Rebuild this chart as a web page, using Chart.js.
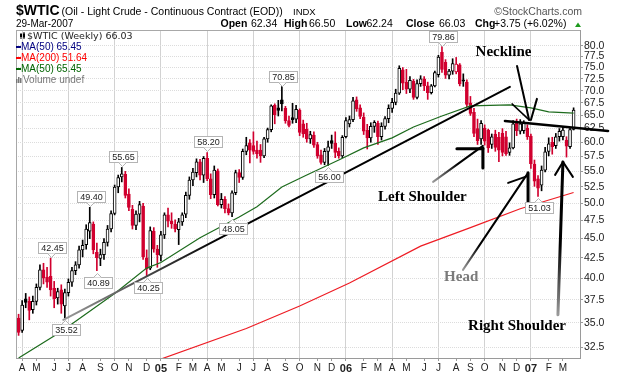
<!DOCTYPE html>
<html>
<head>
<meta charset="utf-8">
<title>$WTIC weekly</title>
<script src="https://cdn.jsdelivr.net/npm/chart.js@4.4.1/dist/chart.umd.min.js"></script>
<style>
  html, body { margin: 0; padding: 0; background: #fff; }
  #wrap { width: 620px; height: 376px; }
</style>
</head>
<body>
<div id="wrap"><canvas id="wtic" width="620" height="376"></canvas></div>
<script>
// $WTIC weekly candles, week 0 = week of 29-Mar-2004 (one entry per week)
const opens = [
  35.5, 34.2, 37.6, 37.3, 36.4, 37.3, 38.9, 41.0, 40.1, 40.2,
  38.8, 37.7, 38.6, 36.8, 38.3, 39.5, 40.9, 41.6, 43.5, 44.2,
  46.0, 47.0, 43.2, 42.4, 42.9, 44.5, 46.3, 48.5, 52.5, 54.1,
  54.5, 51.4, 49.1, 46.8, 48.4, 49.6, 42.5, 41.2, 46.0, 43.6,
  42.8, 45.5, 48.3, 47.4, 47.0, 46.2, 47.3, 48.4, 51.2, 53.6,
  54.8, 56.6, 54.4, 57.2, 53.8, 51.3, 55.1, 49.8, 50.6, 49.2,
  48.6, 51.6, 54.8, 54.0, 58.4, 59.9, 59.4, 58.6, 58.6, 57.6,
  60.6, 62.3, 67.0, 66.5, 68.1, 66.4, 64.0, 64.6, 64.3, 66.0,
  63.4, 62.4, 60.6, 61.3, 59.6, 57.8, 56.5, 58.4, 60.3, 59.8,
  58.4, 57.6, 61.0, 63.4, 64.2, 68.1, 66.5, 64.7, 62.2, 60.8,
  62.9, 63.5, 61.0, 62.9, 64.4, 66.4, 67.6, 69.5, 74.5, 71.8,
  70.3, 72.0, 68.6, 71.5, 72.5, 71.0, 69.6, 71.0, 73.4, 78.5,
  76.2, 73.3, 74.2, 74.0, 75.6, 72.3, 71.8, 67.5, 65.6, 62.5,
  60.6, 62.6, 62.2, 59.6, 61.5, 60.9, 61.6, 61.0, 58.2, 59.0,
  63.6, 62.0, 62.1, 62.6, 61.1, 56.2, 53.8, 52.8, 55.2, 58.4,
  60.0, 59.4, 61.0, 61.0, 60.4, 59.2, 62.34
];
const highs = [
  35.9, 37.4, 38.2, 37.8, 37.9, 39.3, 41.6, 41.8, 41.3, 42.45,
  39.6, 38.8, 39.2, 38.7, 39.9, 41.3, 42.0, 44.0, 44.8, 46.9,
  49.40, 47.3, 44.4, 43.6, 45.0, 46.8, 48.9, 52.8, 54.4, 55.65,
  55.0, 52.2, 49.7, 48.9, 50.3, 50.0, 43.5, 46.6, 46.5, 44.1,
  46.0, 48.6, 49.3, 48.6, 47.6, 47.8, 48.6, 51.7, 54.1, 55.5,
  57.1, 57.0, 57.5, 58.20, 54.6, 55.9, 55.4, 51.5, 51.0, 49.9,
  51.9, 55.2, 55.3, 58.8, 60.9, 60.5, 61.9, 60.2, 59.6, 60.9,
  62.6, 67.1, 67.3, 68.0, 70.85, 66.8, 64.9, 67.4, 67.0, 66.3,
  64.1, 63.5, 62.0, 61.9, 60.0, 58.6, 58.9, 60.2, 61.3, 61.9,
  59.0, 61.2, 64.6, 64.9, 68.6, 68.7, 67.1, 65.5, 63.3, 63.6,
  64.0, 63.9, 63.6, 64.8, 67.1, 68.4, 70.3, 75.4, 75.0, 74.6,
  73.0, 72.4, 72.3, 73.2, 73.0, 71.8, 71.3, 74.2, 77.8, 79.86,
  76.8, 74.6, 77.0, 77.3, 75.9, 73.6, 72.3, 68.8, 66.4, 64.3,
  64.0, 63.2, 62.4, 61.5, 62.2, 61.8, 62.5, 62.0, 59.9, 64.0,
  64.3, 64.2, 64.0, 63.2, 61.5, 56.9, 54.3, 55.9, 59.1, 60.8,
  60.9, 61.6, 62.5, 62.8, 61.0, 62.6, 66.50
];
const lows = [
  33.7, 34.0, 36.6, 35.3, 36.0, 36.9, 38.6, 39.3, 38.9, 37.9,
  36.6, 37.0, 36.0, 35.52, 37.9, 39.0, 40.4, 41.2, 42.6, 43.6,
  45.0, 43.0, 40.89, 41.5, 42.3, 44.0, 45.9, 48.3, 51.6, 53.3,
  50.8, 48.9, 46.3, 46.2, 47.3, 42.3, 40.25, 41.0, 43.2, 41.3,
  42.1, 45.0, 46.6, 46.4, 45.9, 44.2, 46.8, 47.9, 50.6, 52.7,
  54.1, 53.6, 53.2, 53.5, 50.7, 50.8, 49.6, 49.3, 48.6, 48.3,
  48.05, 51.3, 53.2, 53.7, 57.8, 56.4, 57.9, 57.2, 56.5, 57.3,
  60.0, 61.9, 63.4, 64.9, 65.9, 63.5, 62.8, 63.5, 63.6, 61.2,
  60.9, 60.0, 59.8, 59.1, 57.2, 56.2, 56.1, 56.00, 58.9, 57.3,
  57.2, 57.3, 60.8, 62.8, 63.8, 65.8, 64.4, 61.4, 58.8, 60.0,
  61.8, 59.6, 60.4, 62.4, 63.6, 65.6, 67.1, 69.2, 70.2, 69.4,
  69.6, 68.2, 68.3, 70.9, 70.0, 68.2, 69.3, 70.8, 72.9, 73.9,
  72.6, 72.5, 73.5, 73.6, 71.0, 70.9, 66.7, 65.0, 61.0, 59.6,
  59.6, 59.5, 58.2, 58.9, 58.4, 56.6, 57.6, 57.7, 57.7, 58.8,
  61.2, 61.5, 61.6, 60.5, 55.5, 52.6, 51.03, 51.9, 54.9, 57.6,
  57.9, 58.9, 60.2, 60.4, 57.4, 58.9, 62.24
];
const closes = [
  34.0, 36.9, 37.2, 36.3, 37.3, 38.9, 41.0, 40.0, 39.5, 38.6,
  37.6, 38.4, 37.0, 38.3, 39.5, 40.9, 41.6, 43.5, 44.1, 46.3,
  47.2, 43.5, 42.5, 42.9, 44.5, 46.3, 48.5, 52.5, 54.0, 54.6,
  51.2, 49.4, 46.8, 48.4, 49.8, 42.6, 41.1, 46.1, 43.6, 42.9,
  45.5, 48.3, 47.4, 47.0, 46.3, 47.3, 48.3, 51.2, 53.6, 54.9,
  56.6, 54.4, 57.2, 53.8, 51.3, 55.2, 49.8, 50.6, 49.2, 48.6,
  51.6, 54.8, 54.0, 58.4, 59.4, 58.6, 58.4, 58.0, 57.6, 60.6,
  62.3, 66.9, 65.1, 66.0, 67.3, 64.0, 63.1, 64.2, 66.2, 61.8,
  61.5, 60.6, 61.4, 59.5, 57.6, 56.5, 58.4, 59.2, 59.8, 58.2,
  57.6, 60.9, 64.0, 64.2, 67.9, 66.3, 64.8, 62.0, 60.8, 62.9,
  63.7, 61.0, 62.9, 64.4, 66.4, 67.6, 69.5, 74.8, 71.6, 70.3,
  72.2, 68.6, 71.5, 72.5, 71.0, 69.6, 71.0, 73.9, 77.4, 74.6,
  73.3, 74.2, 75.9, 75.8, 71.4, 72.0, 67.2, 65.4, 61.6, 60.3,
  63.5, 60.2, 59.0, 61.0, 59.1, 58.6, 58.2, 58.0, 59.0, 63.4,
  62.1, 63.4, 63.5, 61.0, 56.3, 53.4, 52.3, 55.2, 58.3, 59.7,
  59.2, 61.0, 62.0, 62.2, 59.3, 62.3, 66.03
];

// moving averages at a few weeks
const ma50Weeks = [0, 12, 27, 36, 40, 51, 62, 67, 74, 81, 90, 97, 105, 111, 119, 127, 138, 144, 149, 156];
const ma50Values = [31.5, 34.1, 38.2, 41.2, 41.9, 45.1, 48.0, 49.5, 52.5, 54.4, 56.9, 59.0, 60.8, 62.8, 64.9, 66.9, 67.1, 66.5, 65.7, 65.45];
const ma200Weeks = [40, 64, 79, 93, 113, 127, 141, 156];
const ma200Values = [31.4, 34.4, 36.8, 39.4, 44.0, 46.5, 49.2, 51.64];

// axis labels
const monthLabels = ['A', 'M', 'J', 'J', 'A', 'S', 'O', 'N', 'D', '05', 'F', 'M',
                     'A', 'M', 'J', 'J', 'A', 'S', 'O', 'N', 'D', '06', 'F', 'M',
                     'A', 'M', 'J', 'J', 'A', 'S', 'O', 'N', 'D', '07', 'F', 'M'];
const priceTicks = [32.5, 35, 37.5, 40, 42.5, 45, 47.5, 50, 52.5, 55, 57.5, 60,
                    62.5, 65, 67.5, 70, 72.5, 75, 77.5, 80];

// flagged highs and lows
const markWeeks = [9, 13, 20, 22, 29, 36, 53, 60, 74, 87, 119, 146];
const markValues = [42.45, 35.52, 49.40, 40.89, 55.65, 40.25, 58.20, 48.05, 70.85, 56.00, 79.86, 51.03];

// hand drawn head & shoulders notes, in [week, price]
const noteLines = [
  { a: [12.56, 35.3], b: [138.1, 70.8], w: 2, fade: 0.35 },   // long support line
  { a: [136.7, 63.95], b: [165.7, 62.07], w: 2.5 },            // neckline
  { a: [140.1, 75.36], b: [143.5, 64.14], w: 2 },
  { a: [138.7, 67.28], b: [143.5, 64.14], w: 1.5 },
  { a: [145.7, 68.30], b: [144.0, 64.14], w: 2 },
  { a: [116.5, 53.31], b: [130.5, 59.35], w: 2, fade: 0.5 },  // left shoulder
  { a: [123.2, 58.83], b: [130.5, 58.83], w: 3 },
  { a: [130.5, 59.0], b: [130.5, 55.58], w: 3 },
  { a: [124.9, 40.99], b: [143.2, 54.76], w: 2, fade: 0.25 }, // head
  { a: [137.6, 53.14], b: [143.2, 54.27], w: 2 },
  { a: [143.2, 54.76], b: [143.2, 50.22], w: 3 },
  { a: [151.6, 35.84], b: [153.0, 56.58], w: 3, fade: 0.45 }, // right shoulder
  { a: [150.8, 54.43], b: [153.0, 56.58], w: 2 },
  { a: [153.0, 56.58], b: [155.8, 54.11], w: 2 }
];
const noteTexts = [
  { text: 'Neckline', at: [136.3, 78.65], color: '#000' },
  { text: 'Left Shoulder', at: [113.5, 50.9], color: '#000' },
  { text: 'Head', at: [124.4, 40.1], color: '#7a7a7a' },
  { text: 'Right Shoulder', at: [140.1, 34.6], color: '#000' }
];

const SANS = '"Liberation Sans", Arial, sans-serif';
const RED = '#d1002f';

const weeks = closes.map((c, i) => i);
const upColor = i => (i > 0 && closes[i] >= closes[i - 1]) ? '#000000' : RED;

// first monday of each month -> week index
const startDay = Date.UTC(2004, 2, 29);
const monthWeeks = monthLabels.map((lbl, k) => {
  const d = new Date(Date.UTC(2004, 3 + k, 1));
  while (d.getUTCDay() !== 1) d.setUTCDate(d.getUTCDate() + 1);
  return Math.round((d.getTime() - startDay) / (7 * 86400000));
});
const isQuarter = monthLabels.map((lbl, k) => (3 + k) % 3 === 0);
const isYear = lbl => /^\d/.test(lbl);

function line(ctx, x1, y1, x2, y2) {
  ctx.beginPath();
  ctx.moveTo(x1, y1);
  ctx.lineTo(x2, y2);
  ctx.stroke();
}

// header, legend and the frame round the plot
const headerPlugin = {
  id: 'header',
  afterDraw(chart) {
    const ctx = chart.ctx;
    const area = chart.chartArea;
    ctx.save();

    ctx.strokeStyle = '#a8a8a8';
    ctx.lineWidth = 1;
    line(ctx, area.left + 0.5, area.top, area.left + 0.5, area.bottom);
    line(ctx, area.left, area.top + 0.5, area.right, area.top + 0.5);

    ctx.textBaseline = 'alphabetic';
    ctx.textAlign = 'left';
    ctx.fillStyle = '#000';
    ctx.font = 'bold 14px ' + SANS;
    ctx.fillText('$WTIC', 16, 15);
    ctx.font = '10.5px ' + SANS;
    ctx.fillText('(Oil - Light Crude - Continuous Contract (EOD))', 61.5, 15);
    ctx.font = '9.5px ' + SANS;
    ctx.fillText('INDX', 293, 15);
    ctx.font = '10px ' + SANS;
    ctx.fillText('29-Mar-2007', 16, 27);

    const quote = [['Open', 220.5, true], ['62.34', 251, false], ['High', 284, true], ['66.50', 309, false],
                   ['Low', 346, true], ['62.24', 366.5, false], ['Close', 406, true], ['66.03', 439, false],
                   ['Chg', 475, true], ['+3.75 (+6.02%)', 494, false]];
    quote.forEach(([t, x, b]) => {
      ctx.font = (b ? 'bold 10.5px ' : '10.5px ') + SANS;
      ctx.fillText(t, x, 27);
    });
    ctx.fillStyle = '#1e9a1e';
    ctx.beginPath();
    ctx.moveTo(575, 27); ctx.lineTo(581, 27); ctx.lineTo(578, 22.5);
    ctx.closePath();
    ctx.fill();

    ctx.fillStyle = '#555';
    ctx.font = '10.5px ' + SANS;
    ctx.textAlign = 'right';
    ctx.fillText('\u00A9StockCharts.com', 582, 15);

    // legend
    ctx.textAlign = 'left';
    ctx.font = '9.5px "DejaVu Sans", ' + SANS;
    ctx.fillStyle = '#000';
    ctx.fillRect(20.5, 33, 1, 6);
    ctx.fillRect(20, 34, 2, 3);
    ctx.fillRect(23.5, 32, 1, 7);
    ctx.fillRect(23, 33.5, 2, 4);
    ctx.fillStyle = '#222';
    ctx.fillText('$WTIC (Weekly) 66.03', 27, 39);

    const rows = [['MA(50) 65.45', '#000080', 50], ['MA(200) 51.64', '#ff0000', 61], ['MA(50) 65.45', '#006400', 72]];
    ctx.font = '10px ' + SANS;
    rows.forEach(([t, c, y]) => {
      ctx.fillStyle = c;
      ctx.fillRect(16, y - 4, 5, 2);
      ctx.fillText(t, 21, y);
    });
    ctx.fillStyle = '#777';
    ctx.fillRect(16, 79, 1.5, 4);
    ctx.fillRect(18, 77, 1.5, 6);
    ctx.fillRect(20, 78, 1.5, 5);
    ctx.fillText('Volume undef', 23, 83);
    ctx.restore();
  }
};

// value boxes and the hand drawn pattern notes
const notesPlugin = {
  id: 'notes',
  afterDatasetsDraw(chart) {
    const ctx = chart.ctx;
    const xs = chart.scales.x;
    const ys = chart.scales.y;
    const px = p => [xs.getPixelForValue(p[0]), ys.getPixelForValue(p[1])];
    ctx.save();

    ctx.lineCap = 'round';
    noteLines.forEach(n => {
      const [x1, y1] = px(n.a);
      const [x2, y2] = px(n.b);
      if (n.fade) {
        const g = ctx.createLinearGradient(x1, y1, x2, y2);
        g.addColorStop(0, '#9a9a9a');
        g.addColorStop(n.fade, '#000');
        g.addColorStop(1, '#000');
        ctx.strokeStyle = g;
      } else {
        ctx.strokeStyle = '#000';
      }
      ctx.lineWidth = n.w;
      line(ctx, x1, y1, x2, y2);
    });

    ctx.font = 'bold 15px "Liberation Serif", "Times New Roman", serif';
    ctx.textAlign = 'center';
    ctx.textBaseline = 'middle';
    noteTexts.forEach(n => {
      const [x, y] = px(n.at);
      ctx.fillStyle = n.color;
      ctx.fillText(n.text, x, y);
    });

    ctx.font = '9px ' + SANS;
    markWeeks.forEach((wk, k) => {
      const v = markValues[k];
      const txt = v.toFixed(2);
      const above = Math.abs(highs[wk] - v) < 1e-6;
      const cx = Math.round(xs.getPixelForValue(wk)) + 0.5;
      const cy = ys.getPixelForValue(v);
      const w = Math.round(ctx.measureText(txt).width) + 5;
      const h = 11;
      const left = Math.round(cx - w / 2) + 0.5;
      const top = above ? Math.round(cy - 5 - h) + 0.5 : Math.round(cy + 6) + 0.5;
      ctx.fillStyle = '#fff';
      ctx.strokeStyle = '#b4b4b4';
      ctx.lineWidth = 1;
      ctx.fillRect(left, top, w, h);
      ctx.strokeRect(left, top, w, h);
      const baseY = above ? top + h : top;
      const tipY = above ? baseY + 4 : baseY - 4;
      ctx.beginPath();
      ctx.moveTo(cx - 4, baseY);
      ctx.lineTo(cx, tipY);
      ctx.lineTo(cx + 4, baseY);
      ctx.fill();
      ctx.stroke();
      ctx.fillStyle = '#1a1a1a';
      ctx.fillText(txt, left + w / 2, top + h / 2 + 0.5);
    });
    ctx.restore();
  }
};

const bodies = weeks.map(i => ({ x: i, y: [opens[i], closes[i]] }));
const wicks = weeks.map(i => ({ x: i, y: [lows[i], highs[i]] }));

new Chart(document.getElementById('wtic'), {
  type: 'bar',
  data: {
    datasets: [
      {
        type: 'line',
        label: 'MA(50)',
        data: ma50Weeks.map((w, k) => ({ x: w, y: ma50Values[k] })),
        borderColor: '#1d6b1d',
        borderWidth: 1.2,
        pointRadius: 0,
        order: 0
      },
      {
        type: 'line',
        label: 'MA(200)',
        data: ma200Weeks.map((w, k) => ({ x: w, y: ma200Values[k] })),
        borderColor: '#ee1c24',
        borderWidth: 1.2,
        pointRadius: 0,
        order: 0
      },
      {
        label: 'body',
        data: bodies,
        backgroundColor: weeks.map(i => closes[i] < opens[i] ? upColor(i) : '#ffffff'),
        borderColor: weeks.map(upColor),
        borderWidth: 1,
        borderSkipped: false,
        barThickness: 3,
        grouped: false,
        order: 1
      },
      {
        label: 'wick',
        data: wicks,
        backgroundColor: weeks.map(upColor),
        borderWidth: 0,
        barThickness: 1,
        grouped: false,
        order: 2
      }
    ]
  },
  options: {
    responsive: false,
    animation: false,
    devicePixelRatio: 1,
    layout: { padding: { left: 16, top: 30, right: 0, bottom: 0 } },
    plugins: { legend: { display: false }, tooltip: { enabled: false } },
    scales: {
      x: {
        type: 'linear',
        min: -0.73,
        max: 157.8,
        offset: false,
        grid: {
          offset: false,
          color: ctx => isQuarter[ctx.index] ? '#d2d2d2' : 'rgba(0,0,0,0)',
          tickColor: '#9a9a9a',
          tickLength: 3
        },
        border: { color: '#9a9a9a' },
        afterBuildTicks: scale => { scale.ticks = monthWeeks.map(v => ({ value: v })); },
        afterFit: scale => { scale.height = 18; },
        ticks: {
          autoSkip: false,
          maxRotation: 0,
          padding: 1,
          color: '#222',
          font: ctx => ({ family: SANS, size: isYear(monthLabels[ctx.index] || '') ? 11 : 10,
                          weight: isYear(monthLabels[ctx.index] || '') ? 'bold' : 'normal' }),
          callback: (v, i) => monthLabels[i]
        }
      },
      y: {
        type: 'logarithmic',
        position: 'right',
        min: 31.5,
        max: 83.9,
        grid: { color: '#dcdcdc', tickColor: '#9a9a9a', tickLength: 3 },
        border: { color: '#9a9a9a', dash: [1, 1] },
        afterBuildTicks: scale => { scale.ticks = priceTicks.map(v => ({ value: v })); },
        afterFit: scale => { scale.width = 40; },
        ticks: {
          autoSkip: false,
          padding: 1,
          color: '#222',
          font: { family: SANS, size: 10.5 },
          callback: v => Number(v).toFixed(1)
        }
      }
    }
  },
  plugins: [headerPlugin, notesPlugin]
});
</script>
</body>
</html>
